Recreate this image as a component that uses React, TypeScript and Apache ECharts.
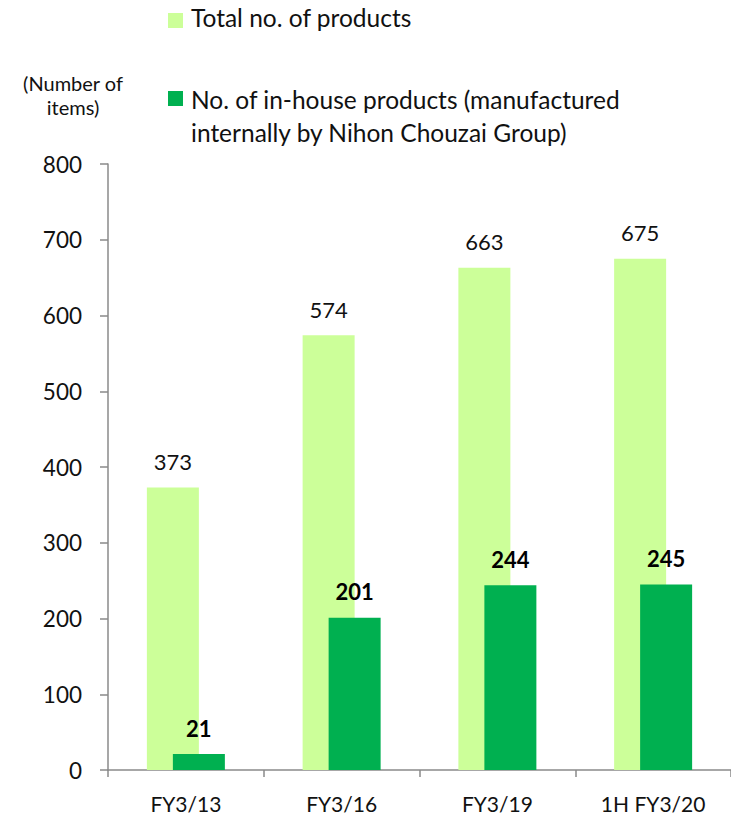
import React, { useEffect, useRef } from "react";
import * as echarts from "echarts";

const categories = ["FY3/13", "FY3/16", "FY3/19", "1H FY3/20"];
const totalProducts = [373, 574, 663, 675];
const inHouseProducts = [21, 201, 244, 245];
const yTicks = { min: 0, max: 800, interval: 100 };
const seriesNames = [
  "Total no. of products",
  "No. of in-house products (manufactured internally by Nihon Chouzai Group)",
];

const FONT = "Lato, 'Open Sans', sans-serif";

export default function App() {
  const ref = useRef<HTMLDivElement>(null);
  useEffect(() => {
    if (!ref.current) return;
    const chart = echarts.init(ref.current, undefined, { renderer: "svg" });
    chart.setOption({
      animation: false,
      textStyle: { fontFamily: FONT },
      grid: { left: 108, top: 164, width: 628, height: 606, containLabel: false },
      xAxis: {
        type: "category",
        data: categories,
        axisLine: { lineStyle: { color: "#8a8a8a", width: 1.5 } },
        axisTick: { show: true, length: 7, lineStyle: { color: "#8a8a8a", width: 1.5 } },
        axisLabel: { color: "#111", fontSize: 21, fontFamily: FONT, margin: 23 },
      },
      yAxis: {
        type: "value",
        min: yTicks.min,
        max: yTicks.max,
        interval: yTicks.interval,
        axisLine: { show: true, lineStyle: { color: "#8a8a8a", width: 1.5 } },
        axisTick: { show: true, length: 8, lineStyle: { color: "#8a8a8a", width: 1.5 } },
        axisLabel: { color: "#111", fontSize: 22.5, fontFamily: FONT, margin: 26 },
        splitLine: { show: false },
      },
      series: [
        {
          name: seriesNames[0],
          type: "bar",
          data: totalProducts,
          barWidth: 52,
          barGap: "-50%",
          itemStyle: { color: "#CCFF99" },
          label: {
            show: true,
            position: "top",
            distance: 15,
            color: "#111",
            fontSize: 22,
            fontFamily: FONT,
          },
        },
        {
          name: seriesNames[1],
          type: "bar",
          data: inHouseProducts,
          barWidth: 52,
          itemStyle: { color: "#00B050" },
          label: {
            show: true,
            position: "top",
            distance: 15,
            color: "#000",
            fontSize: 22,
            fontWeight: "bold",
            fontFamily: FONT,
          },
        },
      ],
      graphic: [
        { type: "rect", left: 168, top: 13, shape: { width: 15, height: 15 }, style: { fill: "#CCFF99" } },
        {
          type: "text",
          left: 191,
          top: 5,
          style: { text: seriesNames[0], fontSize: 24.5, fontFamily: FONT, fill: "#111" },
        },
        { type: "rect", left: 168, top: 91, shape: { width: 15, height: 15 }, style: { fill: "#00B050" } },
        {
          type: "text",
          left: 191,
          top: 83,
          style: {
            text: "No. of in-house products (manufactured\ninternally by Nihon Chouzai Group)",
            fontSize: 24.5,
            lineHeight: 33,
            fontFamily: FONT,
            fill: "#111",
          },
        },
        {
          type: "text",
          x: 73,
          y: 71,
          style: {
            text: "(Number of\nitems)",
            fontSize: 20,
            lineHeight: 24,
            align: "center",
            fontFamily: FONT,
            fill: "#111",
          },
        },
      ],
    });
    return () => chart.dispose();
  }, []);
  return (
    <div
      ref={ref}
      style={{ position: "absolute", left: 0, top: 0, width: 731, height: 817 }}
    />
  );
}
